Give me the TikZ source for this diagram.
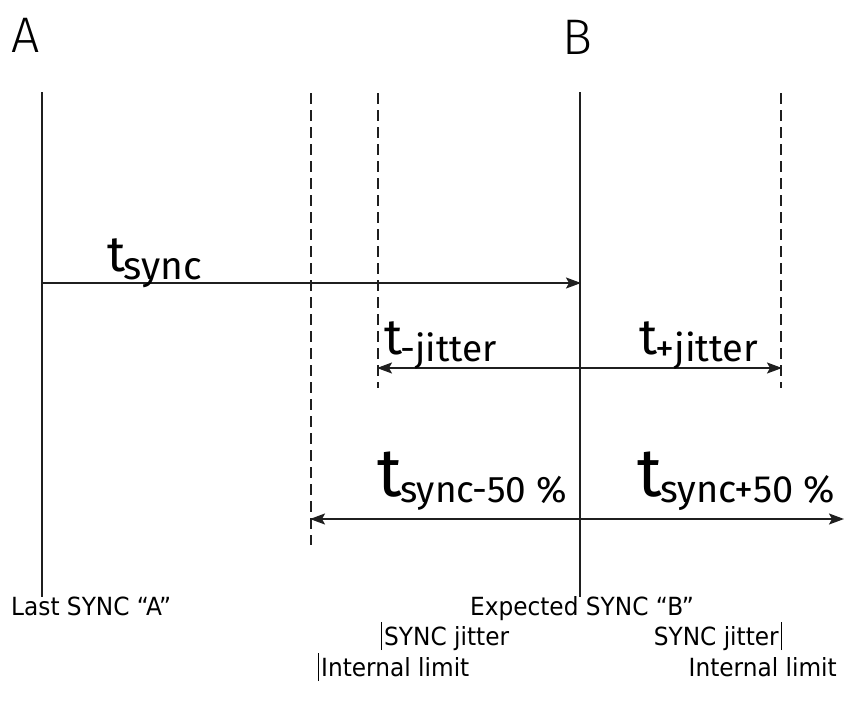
\documentclass[tikz,border=0pt]{standalone}
\usepackage{fontspec}
\setmainfont{DejaVu Sans}[FakeStretch=0.93]
\newfontfamily\tfont{Fira Sans}
\newfontfamily\letterfont{Fira Sans}[UprightFont={* Light}]
\usetikzlibrary{arrows.meta}
\tikzset{
  solidline/.style={line width=1.8pt, black!88},
  dashline/.style={line width=1.8pt, black!88, dash pattern=on 11pt off 6pt},
  arr/.style={line width=1.8pt, black!88, -{Stealth[length=15pt,width=11pt,inset=3pt]}},
  darr/.style={line width=1.8pt, black!88, {Stealth[length=15pt,width=11pt,inset=3pt]}-{Stealth[length=15pt,width=11pt,inset=3pt]}},
  lbl/.style={font=\fontsize{25}{27}\selectfont, inner sep=0pt},
  big/.style={font=\letterfont\fontsize{50}{50}\selectfont, inner sep=0pt, anchor=base west},
  tlbl/.style={inner sep=0pt, anchor=base west},
  tick/.style={line width=1.6pt, black}
}
\newcommand{\tsym}[4]{{\tfont\fontsize{#1}{#1}\selectfont t}\kern-1.5pt\raisebox{-#4pt}{\tfont\fontsize{#2}{#2}\selectfont #3}}
\begin{document}
\begin{tikzpicture}[x=1pt,y=-1pt]
\useasboundingbox (0,0) rectangle (844,707);
% letters
\node[big] (A) at (11,52) {A};
\node[big] (B) at (562,54) {B};
% vertical lines
\coordinate (a1) at (42,92);   \coordinate (a2) at (42,597);
\coordinate (b1) at (580,92);  \coordinate (b2) at (580,597);
\coordinate (d1t) at (311,93); \coordinate (d1b) at (311,545);
\coordinate (d2t) at (378,93); \coordinate (d2b) at (378,388);
\coordinate (d3t) at (781,93); \coordinate (d3b) at (781,388);
\draw[solidline] (a1) -- (a2);
\draw[solidline] (b1) -- (b2);
\draw[dashline] (d1t) -- (d1b);
\draw[dashline] (d2t) -- (d2b);
\draw[dashline] (d3t) -- (d3b);
% arrows
\coordinate (s0) at (42,283); \coordinate (s1) at (581,283);
\draw[arr] (s0) -- (s1);
\coordinate (j0) at (377,368); \coordinate (j1) at (782,368);
\draw[darr] (j0) -- (j1);
\coordinate (h0) at (310,519); \coordinate (h1) at (844,519);
\draw[darr] (h0) -- (h1);
% t labels
\node[tlbl] (ts) at (107,271) {\tsym{50}{39}{sync}{8}};
\node[tlbl] (tmj) at (384,354) {\tsym{50}{37}{-jitter}{7}};
\node[tlbl] (tpj) at (639,354) {\tsym{50}{38}{+jitter}{7}};
\node[tlbl] (tsm) at (377,496) {\tsym{68}{37}{sync-50 \%}{6}};
\node[tlbl] (tsp) at (637,496) {\tsym{68}{38}{sync+50 \%}{6}};
% bottom labels
\node[lbl, anchor=base west] (la) at (11,615) {Last SYNC “A”};
\node[lbl, anchor=base] (lb) at (582,615) {Expected SYNC “B”};
\node[lbl, anchor=base west] (ljl) at (384,645) {SYNC jitter};
\node[lbl, anchor=base east] (ljr) at (779,645) {SYNC jitter};
\node[lbl, anchor=base west] (lil) at (321,676) {Internal limit};
\node[lbl, anchor=base east] (lir) at (837,676) {Internal limit};
\draw[tick] ([xshift=-2.5pt]ljl.base west) ++(0,5) -- ++(0,-28);
\draw[tick] ([xshift=2.5pt]ljr.base east) ++(0,5) -- ++(0,-28);
\draw[tick] ([xshift=-2.5pt]lil.base west) ++(0,5) -- ++(0,-28);
\end{tikzpicture}
\end{document}
